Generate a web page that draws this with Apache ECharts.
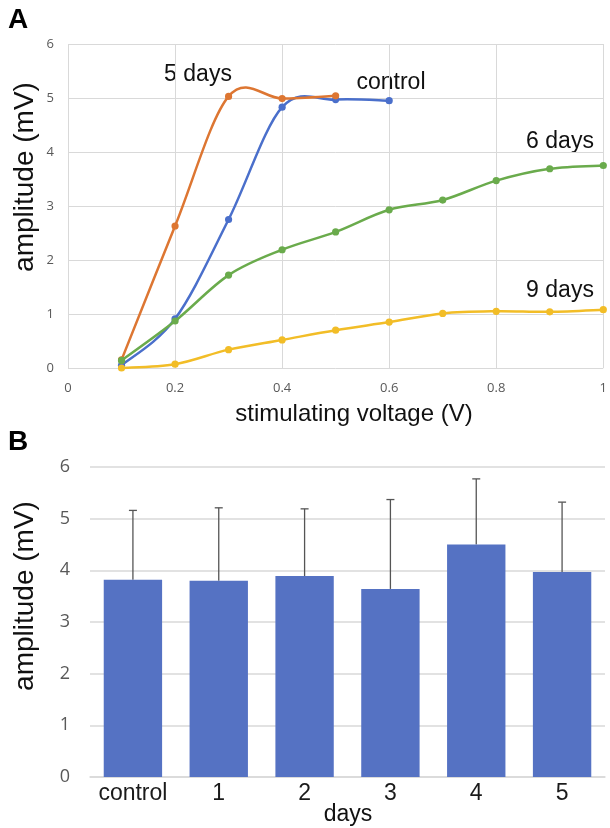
<!DOCTYPE html>
<html>
<head>
<meta charset="utf-8">
<script src="https://cdn.jsdelivr.net/npm/echarts@6/dist/echarts.min.js"></script>
<style>html,body{margin:0;padding:0;background:#fff}#c{width:610px;height:828px}</style>
</head>
<body>
<div id="c"></div>
<script>
// ---- Panel A data ----
const voltage = [0.1, 0.2, 0.3, 0.4, 0.5, 0.6, 0.7, 0.8, 0.9, 1.0];
const controlAmp = [0.05, 0.91, 2.75, 4.83, 4.97, 4.95];
const days5Amp = [0.15, 2.63, 5.03, 4.99, 5.04];
const days6Amp = [0.14, 0.87, 1.72, 2.19, 2.52, 2.93, 3.11, 3.47, 3.69, 3.75];
const days9Amp = [0.0, 0.07, 0.34, 0.52, 0.70, 0.85, 1.01, 1.05, 1.04, 1.08];
const seriesNamesA = ['control', '5 days', '6 days', '9 days'];

// ---- Panel B data ----
const dayCategories = ['control', '1', '2', '3', '4', '5'];
const meanAmp = [3.82, 3.80, 3.89, 3.64, 4.50, 3.97];
const errTop = [5.16, 5.21, 5.19, 5.37, 5.77, 5.32];

const pair = (xs, ys) => ys.map((y, i) => [xs[i], y]);
const FONT = '"Liberation Sans", Arial, sans-serif';
const FONT2 = '"Open Sans", "Liberation Sans", sans-serif';
const GRID_C = '#d9d9d9';
const TICK_C = '#595959';

const chart = echarts.init(document.getElementById('c'), null, {renderer: 'canvas'});

// Excel-like smoothed line (Catmull-Rom Bezier through the data points, via the axis scales)
function smoothSeries(name, data, color, z) {
  return {
    name, type: 'custom', xAxisIndex: 0, yAxisIndex: 0, z,
    data,
    renderItem: function (params, api) {
      const children = [];
      if (params.dataIndex === 0) {
        const P = data.map(d => api.coord(d));
        let path = 'M' + P[0][0] + ' ' + P[0][1];
        for (let i = 0; i < P.length - 1; i++) {
          const p0 = P[Math.max(i - 1, 0)], p1 = P[i], p2 = P[i + 1], p3 = P[Math.min(i + 2, P.length - 1)];
          const c1 = [p1[0] + (p2[0] - p0[0]) / 6, p1[1] + (p2[1] - p0[1]) / 6];
          const c2 = [p2[0] - (p3[0] - p1[0]) / 6, p2[1] - (p3[1] - p1[1]) / 6];
          path += ' C' + c1[0] + ' ' + c1[1] + ' ' + c2[0] + ' ' + c2[1] + ' ' + p2[0] + ' ' + p2[1];
        }
        children.push({type: 'path', shape: {pathData: path}, style: {fill: 'none', stroke: color, lineWidth: 2.5}});
      }
      const pt = api.coord([api.value(0), api.value(1)]);
      children.push({type: 'circle', shape: {cx: pt[0], cy: pt[1], r: 3.6}, style: {fill: color}, z2: 10});
      return {type: 'group', children};
    }
  };
}

const option = {
  animation: false,
  textStyle: {fontFamily: FONT},
  grid: [
    {left: 68, top: 44, width: 537, height: 324},
    {left: 90, top: 467, width: 515, height: 310}
  ],
  xAxis: [
    {
      gridIndex: 0, type: 'value', min: 0, max: 1, interval: 0.2,
      axisLine: {show: false}, axisTick: {show: false},
      splitLine: {show: true, lineStyle: {color: GRID_C, width: 1}},
      axisLabel: {color: TICK_C, fontSize: 13, fontFamily: FONT2, margin: 14}
    },
    {
      gridIndex: 1, type: 'category', data: dayCategories,
      axisLine: {show: true, lineStyle: {color: GRID_C, width: 1.5}},
      axisTick: {show: false},
      axisLabel: {color: '#1a1a1a', fontSize: 23, fontFamily: FONT, margin: 5, interval: 0}
    }
  ],
  yAxis: [
    {
      gridIndex: 0, type: 'value', min: 0, max: 6, interval: 1,
      axisLine: {show: false}, axisTick: {show: false},
      splitLine: {show: true, lineStyle: {color: GRID_C, width: 1}},
      axisLabel: {color: TICK_C, fontSize: 13, fontFamily: FONT2, margin: 14}
    },
    {
      gridIndex: 1, type: 'value', min: 0, max: 6, interval: 1,
      axisLine: {show: false}, axisTick: {show: false},
      splitLine: {show: true, lineStyle: {color: GRID_C, width: 1.5}},
      axisLabel: {color: TICK_C, fontSize: 18, fontFamily: FONT2, margin: 20}
    }
  ],
  series: [
    smoothSeries(seriesNamesA[0], pair(voltage, controlAmp), '#4a6fcb', 3),
    smoothSeries(seriesNamesA[1], pair(voltage, days5Amp), '#dd7632', 4),
    smoothSeries(seriesNamesA[3], pair(voltage, days9Amp), '#f2bd27', 5),
    smoothSeries(seriesNamesA[2], pair(voltage, days6Amp), '#6aab4c', 6),
    {
      type: 'bar', xAxisIndex: 1, yAxisIndex: 1, data: meanAmp,
      barWidth: '68%', itemStyle: {color: '#5572c3'}, z: 2
    },
    {
      type: 'custom', xAxisIndex: 1, yAxisIndex: 1, z: 1,
      data: meanAmp.map((m, i) => [i, m, errTop[i]]),
      renderItem: function (params, api) {
        const base = api.coord([api.value(0), api.value(1)]);
        const top = api.coord([api.value(0), api.value(2)]);
        const half = 4;
        const st = {stroke: '#555', lineWidth: 1.3};
        return {
          type: 'group',
          children: [
            {type: 'line', shape: {x1: base[0], y1: base[1], x2: top[0], y2: top[1]}, style: st},
            {type: 'line', shape: {x1: top[0] - half, y1: top[1], x2: top[0] + half, y2: top[1]}, style: st}
          ]
        };
      }
    }
  ],
  graphic: [
    {type: 'text', left: 8, top: 6, style: {text: 'A', font: 'bold 28px ' + FONT, fill: '#000'}},
    {type: 'text', left: 8, top: 428, style: {text: 'B', font: 'bold 28px ' + FONT, fill: '#000'}},
    {type: 'text', x: 25, y: 177, rotation: Math.PI / 2, style: {text: 'amplitude (mV)', font: '28px ' + FONT, fill: '#111', align: 'center', verticalAlign: 'middle'}},
    {type: 'text', x: 25, y: 596, rotation: Math.PI / 2, style: {text: 'amplitude (mV)', font: '28px ' + FONT, fill: '#111', align: 'center', verticalAlign: 'middle'}},
    {type: 'text', x: 354, y: 414, style: {text: 'stimulating voltage (V)', font: '24px ' + FONT, fill: '#111', align: 'center', verticalAlign: 'middle'}},
    {type: 'text', x: 348, y: 815, style: {text: 'days', font: '23px ' + FONT, fill: '#111', align: 'center', verticalAlign: 'middle'}},
    {type: 'text', x: 198, y: 75, style: {text: seriesNamesA[1], font: '23px ' + FONT, fill: '#111', align: 'center', verticalAlign: 'middle'}},
    {type: 'text', x: 391, y: 83, style: {text: seriesNamesA[0], font: '23px ' + FONT, fill: '#111', align: 'center', verticalAlign: 'middle'}},
    {type: 'text', x: 560, y: 142, style: {text: seriesNamesA[2], font: '23px ' + FONT, fill: '#111', align: 'center', verticalAlign: 'middle'}},
    {type: 'text', x: 560, y: 291, style: {text: seriesNamesA[3], font: '23px ' + FONT, fill: '#111', align: 'center', verticalAlign: 'middle'}}
  ]
};
chart.setOption(option);
</script>
</body>
</html>
